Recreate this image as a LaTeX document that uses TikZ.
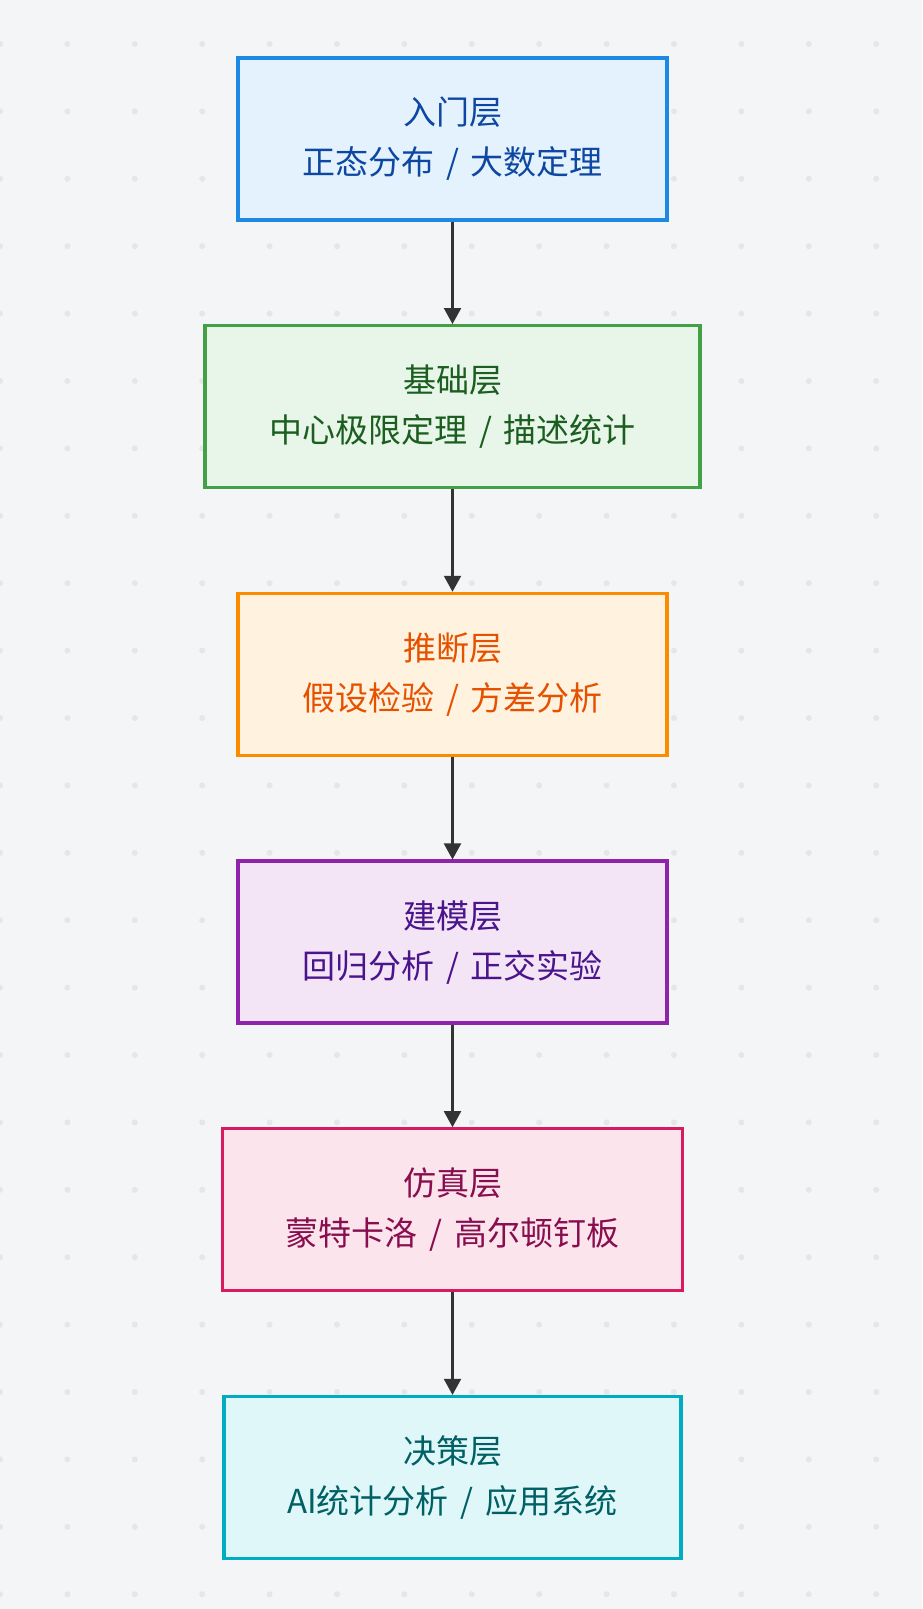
\documentclass[tikz,border=0pt]{standalone}
\usepackage{fontspec}
\newfontfamily\cjk{Noto Sans CJK SC}
\usetikzlibrary{positioning,arrows.meta}

\definecolor{bgcol}{HTML}{F4F5F7}
\definecolor{dotcol}{HTML}{E4E6EA}
\definecolor{arrowcol}{HTML}{333333}
% layer colours: fill, border, text
\definecolor{entryfill}{HTML}{E3F2FD}\definecolor{entryline}{HTML}{1E88E5}\definecolor{entrytext}{HTML}{0D47A1}
\definecolor{basefill}{HTML}{E8F5E9}\definecolor{baseline}{HTML}{43A047}\definecolor{basetext}{HTML}{1B5E20}
\definecolor{inferfill}{HTML}{FFF3E0}\definecolor{inferline}{HTML}{FB8C00}\definecolor{infertext}{HTML}{E65100}
\definecolor{modelfill}{HTML}{F3E5F5}\definecolor{modelline}{HTML}{8E24AA}\definecolor{modeltext}{HTML}{4A148C}
\definecolor{simfill}{HTML}{FCE4EC}\definecolor{simline}{HTML}{D81B60}\definecolor{simtext}{HTML}{880E4F}
\definecolor{decfill}{HTML}{E0F7FA}\definecolor{decline}{HTML}{00ACC1}\definecolor{dectext}{HTML}{006064}

\newcommand{\sep}{\hspace{12bp}/\hspace{12bp}}

\tikzset{
  layer/.style={rectangle, draw=#1line, fill=#1fill, text=#1text, line width=3.3bp,
    minimum height=162bp, align=center, font=\cjk\fontsize{33bp}{50bp}\selectfont},
  flow/.style={-{Triangle[length=16bp,width=17bp]}, draw=arrowcol, line width=2.2bp}
}

\begin{document}
\begin{tikzpicture}[
                    x=1bp, y=-1bp,
                    node distance=102.4bp
                ]
                % Background
                \fill [bgcol] (0,0) rectangle (922,1609);
                \useasboundingbox (0,0) rectangle (922,1609);
                \foreach \i in {0,...,13}
                  \foreach \j in {0,...,23}
                    \fill [dotcol] (\i*67.4,44+\j*67.4) circle (3bp);

                % Blocks
                \node [layer=entry, minimum width=429bp] (entry) at (452.5,139) {入门层\\正态分布\sep 大数定理};
                \node [layer=base, minimum width=495bp, below=of entry] (base) {基础层\\中心极限定理\sep 描述统计};
                \node [layer=infer, minimum width=429bp, below=of base] (infer) {推断层\\假设检验\sep 方差分析};
                \node [layer=model, minimum width=429bp, below=of infer] (model) {建模层\\回归分析\sep 正交实验};
                \node [layer=sim, minimum width=460bp, below=of model] (sim) {仿真层\\蒙特卡洛\sep 高尔顿钉板};
                \node [layer=dec, minimum width=457bp, below=of sim] (dec) {决策层\\AI统计分析\sep 应用系统};

                % Connections
                \draw [flow] (entry) -- (base);
                \draw [flow] (base) -- (infer);
                \draw [flow] (infer) -- (model);
                \draw [flow] (model) -- (sim);
                \draw [flow] (sim) -- (dec);
\end{tikzpicture}
\end{document}
